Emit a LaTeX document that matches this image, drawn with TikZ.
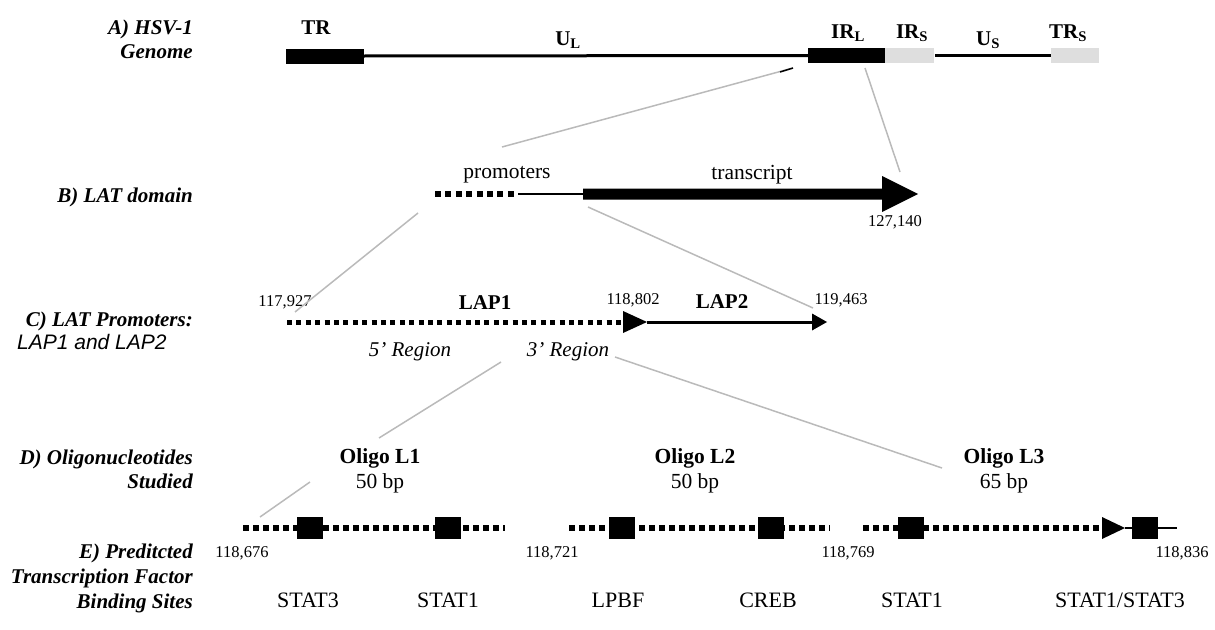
\documentclass[tikz,border=0pt]{standalone}
\usepackage{fontspec}
\setmainfont{Liberation Serif}
\newfontfamily\sansf{Liberation Sans}
\begin{document}
\begin{tikzpicture}[x=1pt,y=-1pt,
  lab/.style={font=\fontsize{21}{24}\selectfont\bfseries\itshape, align=right, anchor=east, inner sep=0pt},
  txt/.style={font=\fontsize{21.5}{22}\selectfont, inner sep=0pt},
  btxt/.style={font=\fontsize{21}{22}\selectfont\bfseries, inner sep=0pt},
  itxt/.style={font=\fontsize{21}{22}\selectfont\itshape, inner sep=0pt},
  num/.style={font=\fontsize{16.5}{18}\selectfont, inner sep=0pt},
  zoomline/.style={draw=black!27, line width=1.5pt},
  seg/.style={fill=black, draw=none, inner sep=0pt, minimum height=15pt},
  grayseg/.style={fill=black!13, draw=none, inner sep=0pt, minimum height=15pt},
  dotsB/.style={line width=5.5pt, dash pattern=on 6pt off 4.4pt},
  dotsC/.style={line width=5pt, dash pattern=on 5pt off 4.4pt},
  dotsE/.style={line width=5.5pt, dash pattern=on 5.5pt off 4.5pt},
  site/.style={fill=black, draw=none, inner sep=0pt, minimum width=26pt, minimum height=22pt},
  head/.style={fill=black, draw=none}]
\useasboundingbox (0,0) rectangle (1215,629);

% ---------- left labels ----------
\node[lab] (la) at (193,39) {A) HSV-1\\Genome};
\node[lab] (lb) at (193,197) {B) LAT domain};
\node[lab] (lc) at (193,321) {C) LAT Promoters:};
\node[font=\fontsize{21}{22}\selectfont\sansf\itshape, anchor=west, inner sep=0pt] (lc2) at (17,342) {LAP1 and LAP2};
\node[lab] (ld) at (193,469) {D) Oligonucleotides\\Studied};
\node[lab, font=\fontsize{21}{25}\selectfont\bfseries\itshape] (le) at (193,578) {E) Preditcted\\Transcription Factor\\Binding Sites};

% ---------- A) genome ----------
\node[seg, minimum width=78pt] (tr) at (325,56) {};
\node[seg, minimum width=77pt] (irl) at (846.5,55.5) {};
\node[grayseg, minimum width=49pt] (irs) at (909.5,55.5) {};
\node[grayseg, minimum width=48pt] (trs) at (1075,55.5) {};
\draw[line width=3pt] (tr.east) -- (irl.west);
\coordinate (usa) at (935,55.5);
\draw[line width=3pt] (usa) -- (trs.west);
\node[btxt] (ttr) at (316,28) {TR};
\node[btxt] (tul) at (568,40) {U\textsubscript{L}};
\node[btxt] (tirl) at (848,33) {IR\textsubscript{L}};
\node[btxt] (tirs) at (912,33) {IR\textsubscript{S}};
\node[btxt] (tus) at (988,40) {U\textsubscript{S}};
\node[btxt] (ttrs) at (1068,33) {TR\textsubscript{S}};

% ---------- B) LAT domain ----------
\coordinate (pa) at (435,194);
\coordinate (pb) at (518,194);
\coordinate (ta) at (583,194);
\coordinate (tip) at (918,194);
\draw[dotsB] (pa) -- (pb);
\draw[line width=1.5pt] (pb) -- (ta);
\fill (583,188.5) -- (882,188.5) -- (882,176) -- (tip) -- (882,212) -- (882,199.5) -- (583,199.5) -- cycle;
\node[txt] (tprom) at (507,175) {promoters};
\node[txt] (ttrans) at (752,175) {transcript};
\node[num] (n1) at (895,222) {127,140};

% zoom lines A -> B
\coordinate (z1a) at (502,147);
\coordinate (z1b) at (793,68);
\draw[zoomline] (z1a) -- (z1b);
\coordinate (z1c) at (780,72);
\draw[line width=1.5pt] (z1c) -- (z1b);
\coordinate (z2a) at (865,68);
\coordinate (z2b) at (900,172);
\draw[zoomline] (z2a) -- (z2b);

% ---------- C) LAT promoters ----------
\coordinate (c0) at (287,322);
\coordinate (c1) at (623,322);
\coordinate (c2) at (647,322);
\coordinate (c3) at (812,322);
\coordinate (c4) at (827,322);
\draw[dotsC] (c0) -- (c1);
\fill[head] (623,311) -- (c2) -- (623,333) -- cycle;
\draw[line width=3pt] (c2) -- (c3);
\fill[head] (812,313.5) -- (c4) -- (812,330.5) -- cycle;
\node[num] (n2) at (285,302) {117,927};
\node[num] (n3) at (633,300) {118,802};
\node[num] (n4) at (841,300) {119,463};
\node[btxt] (tlap1) at (485,303) {LAP1};
\node[btxt] (tlap2) at (722,302) {LAP2};
\node[itxt] (t5r) at (410,352) {5’ Region};
\node[itxt] (t3r) at (568,352) {3’ Region};

% zoom lines B -> C
\coordinate (z3a) at (418,213);
\coordinate (z3b) at (295,312);
\draw[zoomline] (z3a) -- (z3b);
\coordinate (z4a) at (588,207);
\coordinate (z4b) at (813,308);
\draw[zoomline] (z4a) -- (z4b);

% ---------- D) oligos ----------
\node[btxt, font=\fontsize{21.5}{22}\selectfont\bfseries] (o1) at (380,458) {Oligo L1};
\node[txt] (b1) at (380,483) {50 bp};
\node[btxt, font=\fontsize{21.5}{22}\selectfont\bfseries] (o2) at (695,458) {Oligo L2};
\node[txt] (b2) at (695,483) {50 bp};
\node[btxt, font=\fontsize{21.5}{22}\selectfont\bfseries] (o3) at (1004,458) {Oligo L3};
\node[txt] (b3) at (1004,483) {65 bp};

% zoom lines C -> D
\coordinate (z5a) at (501,362);
\coordinate (z5b) at (379,438);
\draw[zoomline] (z5a) -- (z5b);
\coordinate (z6a) at (615,357);
\coordinate (z6b) at (942,468);
\draw[zoomline] (z6a) -- (z6b);
\coordinate (z7a) at (310,482);
\coordinate (z7b) at (260,517);
\draw[zoomline] (z7a) -- (z7b);

% ---------- E) binding sites ----------
\coordinate (e1a) at (243,528);
\coordinate (e1b) at (505,528);
\draw[dotsE] (e1a) -- (e1b);
\coordinate (e2a) at (569,528);
\coordinate (e2b) at (830,528);
\draw[dotsE] (e2a) -- (e2b);
\coordinate (e3a) at (863,528);
\coordinate (e3b) at (1102,528);
\coordinate (e3c) at (1125,528);
\coordinate (e3d) at (1177,528);
\draw[dotsE] (e3a) -- (e3b);
\fill[head] (1102,517) -- (e3c) -- (1102,539) -- cycle;
\draw[line width=1.5pt] (e3c) -- (e3d);
\node[site] (s1) at (309.5,528) {};
\node[site] (s2) at (448,528) {};
\node[site] (s3) at (621.5,528) {};
\node[site] (s4) at (770.5,528) {};
\node[site] (s5) at (911,528) {};
\node[site] (s6) at (1145,528) {};
\node[num] (n5) at (242,553) {118,676};
\node[num] (n6) at (552,553) {118,721};
\node[num] (n7) at (848,553) {118,769};
\node[num] (n8) at (1182,553) {118,836};
\node[txt, font=\fontsize{22}{22}\selectfont] (f1) at (308,600) {STAT3};
\node[txt, font=\fontsize{22}{22}\selectfont] (f2) at (448,600) {STAT1};
\node[txt, font=\fontsize{22}{22}\selectfont] (f3) at (618,600) {LPBF};
\node[txt, font=\fontsize{22}{22}\selectfont] (f4) at (768,600) {CREB};
\node[txt, font=\fontsize{22}{22}\selectfont] (f5) at (912,600) {STAT1};
\node[txt, font=\fontsize{22}{22}\selectfont] (f6) at (1120,600) {STAT1/STAT3};
\end{tikzpicture}
\end{document}
